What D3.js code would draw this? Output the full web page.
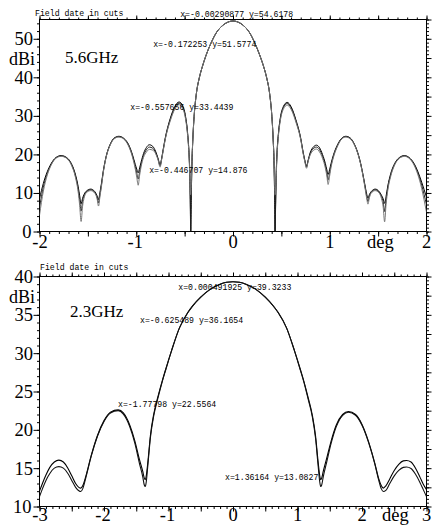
<!DOCTYPE html>
<html><head><meta charset="utf-8">
<script src="https://cdn.jsdelivr.net/npm/d3@7"></script>
<style>html,body{margin:0;padding:0;background:#fff;}svg{display:block;}</style>
</head><body>
<svg id="c" width="441" height="527"></svg>
<script>
// ---------- 5.6 GHz cut (top panel) ----------
const deg56 = [
 -2,-1.96,-1.92,-1.88,-1.83,-1.776,-1.72,-1.67,-1.63,-1.60,
 -1.585,-1.57,-1.555,-1.54,-1.51,-1.47,-1.43,-1.405,-1.39,-1.375,
 -1.36,-1.34,-1.31,-1.27,-1.23,-1.18,-1.13,-1.08,-1.04,-1.01,
 -0.995,-0.98,-0.965,-0.95,-0.925,-0.895,-0.865,-0.83,-0.80,-0.775,
 -0.753,-0.74,-0.725,-0.70,-0.65,-0.60,-0.557,-0.52,-0.49,-0.47,
 -0.455,-0.4467,-0.441,-0.437,-0.432,-0.425,-0.415,-0.40,-0.381,-0.347,
 -0.32,-0.28,-0.227,-0.172,-0.10,-0.05,0,
 0.05,0.10,0.172,0.227,0.28,0.32,0.347,0.381,0.40,0.415,
 0.425,0.431,0.435,0.44,0.4467,0.455,0.47,0.49,0.52,0.56,
 0.60,0.65,0.70,0.725,0.745,0.76,0.775,0.80,0.83,0.863,
 0.895,0.925,0.955,0.97,0.983,0.998,1.013,1.04,1.08,1.12,
 1.165,1.21,1.25,1.29,1.32,1.35,1.37,1.383,1.395,1.41,
 1.43,1.47,1.51,1.535,1.552,1.567,1.582,1.60,1.63,1.67,
 1.72,1.773,1.82,1.87,1.91,1.95,1.975,2.0];
const cut56a = [
 8.5,12.5,15.5,17.6,19.2,19.7,19.2,17.6,14.9,11.6,
 9.3,7.2,8.6,9.6,10.6,11.0,10.4,9.3,8.3,10.2,
 12.4,15.8,19.6,22.6,24.2,24.7,24.2,22.6,20.0,17.4,
 16.2,15.2,16.5,18.0,20.2,21.8,22.5,22.1,20.8,19.0,
 17.3,18.6,20.8,24.3,29.2,32.5,33.6,32.6,29.8,25.8,
 20.5,15.3,8.0,0,8.0,17.0,24.0,30.5,35.3,40.0,
 42.5,45.6,48.9,51.58,53.6,54.35,54.62,
 54.35,53.6,51.55,48.8,45.5,42.5,40.0,35.3,30.5,24.0,
 17.0,8.0,0,7.0,15.0,20.4,25.6,29.6,32.4,33.5,
 32.4,29.0,24.2,20.6,18.2,16.9,18.3,20.6,21.9,22.4,
 21.7,20.0,17.6,16.0,14.8,16.0,17.6,20.0,22.5,24.1,
 24.7,24.3,22.9,20.4,17.6,13.9,11.2,9.6,8.7,9.6,
 10.4,11.0,10.4,9.4,8.5,7.3,9.1,11.8,15.0,17.6,
 19.2,19.7,19.2,17.7,15.6,12.8,10.9,8.9];
const cut56b = [
 6.2,11.5,15.0,17.4,19.1,19.6,19.1,17.4,14.6,11.0,
 8.3,5.3,7.8,9.2,10.4,10.8,10.2,8.9,7.4,9.6,
 12.0,15.6,19.5,22.5,24.1,24.6,24.1,22.4,19.7,16.8,
 15.2,13.6,15.5,17.4,19.7,21.2,21.9,21.6,20.5,18.8,
 17.0,18.5,20.6,24.1,28.9,32.2,33.3,32.3,29.5,25.5,
 20.2,14.9,6.0,0,8.0,17.0,24.0,30.5,35.3,40.0,
 42.5,45.6,48.9,51.58,53.6,54.35,54.62,
 54.35,53.6,51.55,48.8,45.5,42.5,40.0,35.3,30.5,24.0,
 17.0,8.0,0,6.0,14.6,20.1,25.3,29.3,32.1,33.2,
 32.1,28.7,24.0,20.4,18.0,16.7,18.2,20.3,21.5,21.9,
 21.2,19.5,17.0,15.2,13.4,15.1,17.1,19.7,22.3,24.0,
 24.6,24.2,22.8,20.3,17.5,13.7,10.8,9.0,7.8,9.2,
 10.2,10.8,10.2,9.0,7.7,5.2,8.2,11.3,14.7,17.4,
 19.1,19.6,19.1,17.5,15.2,12.0,9.6,7.0];
const cut56c = [
 4.2,10.5,14.6,17.2,19.0,19.5,19.0,17.2,14.2,10.2,
 6.8,2.6,6.5,8.6,10.2,10.6,10.0,8.5,6.6,9.1,
 11.6,15.4,19.4,22.4,24.0,24.5,24.0,22.2,19.4,16.2,
 14.1,12.0,14.6,16.8,19.2,20.6,21.3,21.1,20.2,18.6,
 16.7,18.3,20.4,23.9,28.6,31.8,32.9,31.9,29.1,25.1,
 19.8,14.5,11.0,9.5,12.0,18.0,24.0,30.5,35.3,40.0,
 42.5,45.6,48.9,51.58,53.6,54.35,54.62,
 54.35,53.6,51.55,48.8,45.5,42.5,40.0,35.3,30.5,24.0,
 18.0,12.0,9.5,11.0,14.2,19.7,24.9,28.9,31.7,32.8,
 31.7,28.4,23.8,20.2,17.8,16.4,18.0,20.0,21.0,21.4,
 20.6,19.0,16.4,14.4,12.2,14.3,16.6,19.4,22.1,23.9,
 24.5,24.1,22.7,20.2,17.4,13.5,10.4,8.4,7.1,8.8,
 10.0,10.6,10.0,8.5,6.4,2.5,7.0,10.7,14.3,17.2,
 19.0,19.5,19.0,17.3,14.8,11.2,8.2,5.0];
const xTicks56 = [-2,-1,0,1,2];
const yTicks56 = [0,10,20,30,40,50];
const notes56 = ["x=-0.00290877 y=54.6178","x=-0.172253 y=51.5774","x=-0.557656 y=33.4439","x=-0.446707 y=14.876"];
const noteX56 = [-0.546,-0.825,-1.062,-0.866];
const noteY56 = [55.75,47.8,31.4,15.1];

// ---------- 2.3 GHz cut (bottom panel) ----------
const deg23 = [
 -3,-2.95,-2.9,-2.84,-2.77,-2.70,-2.63,-2.56,-2.5,-2.44,
 -2.39,-2.36,-2.33,-2.28,-2.2,-2.1,-2.0,-1.9,-1.78,-1.7,
 -1.6,-1.52,-1.45,-1.40,-1.375,-1.36,-1.345,-1.32,-1.28,-1.23,
 -1.168,-1.10,-1.04,-0.95,-0.83,-0.70,-0.625,-0.50,-0.35,-0.20,-0.10,0,
 0.1,0.2,0.35,0.5,0.625,0.70,0.83,0.95,1.04,1.10,
 1.168,1.23,1.28,1.32,1.345,1.36,1.375,1.40,1.45,1.52,
 1.6,1.7,1.79,1.9,2.0,2.1,2.2,2.26,2.30,2.33,
 2.37,2.43,2.5,2.57,2.64,2.69,2.76,2.83,2.9,2.95,3.0];
const cut23a = [
 12.0,13.1,14.1,15.1,15.8,16.05,15.8,15.0,14.0,13.0,
 12.5,12.4,12.7,14.0,16.6,19.3,21.2,22.3,22.6,22.2,
 20.6,18.5,16.1,14.6,13.7,13.5,14.0,15.8,19.3,22.0,
 24.2,26.3,28.0,30.4,33.3,35.3,36.17,37.3,38.35,39.0,39.24,39.32,
 39.24,39.0,38.35,37.3,36.15,35.3,33.3,30.4,28.0,26.3,
 24.1,21.9,19.2,15.8,14.0,13.5,13.7,14.6,16.2,18.5,
 20.6,22.0,22.4,22.0,20.7,18.5,15.6,13.6,12.7,12.4,
 12.7,13.6,14.7,15.5,15.95,16.0,15.8,15.0,13.8,12.9,12.2];
const cut23b = [
 11.3,12.4,13.4,14.3,15.0,15.2,15.0,14.3,13.4,12.5,
 12.05,11.95,12.3,13.8,16.5,19.2,21.1,22.2,22.5,22.05,
 20.4,18.2,15.6,13.9,12.8,12.6,13.2,15.4,19.0,21.8,
 24.0,26.2,27.9,30.4,33.3,35.3,36.17,37.3,38.35,39.0,39.24,39.32,
 39.24,39.0,38.35,37.3,36.15,35.3,33.3,30.4,27.9,26.2,
 23.9,21.7,18.9,15.3,13.2,12.6,12.8,13.9,15.7,18.2,
 20.4,21.9,22.3,21.9,20.6,18.4,15.5,13.4,12.3,11.95,
 12.1,13.0,14.0,14.7,15.1,15.15,14.95,14.2,13.1,12.2,11.3];
const xTicks23 = [-3,-2,-1,0,1,2,3];
const yTicks23 = [10,15,20,25,30,35,40];
const notes23 = ["x=0.000491925 y=39.3233","x=-0.625489 y=36.1654","x=-1.77798 y=22.5564","x=1.36164 y=13.0827"];
const noteX23 = [-0.848,-1.442,-1.783,-0.124];
const noteY23 = [38.25,34.0,22.95,13.45];

const svg = d3.select('#c');
const serif = '"Liberation Serif","Times New Roman",serif';
const mono = '"Liberation Mono","DejaVu Sans Mono",monospace';

function panel(o){
  const x = d3.scaleLinear().domain(o.xd).range([39.5,426.5]);
  const y = d3.scaleLinear().domain(o.yd).range(o.yr);
  const g = svg.append('g');
  const id = 'clip'+o.name;
  svg.append('clipPath').attr('id',id).append('rect')
    .attr('x',39.5).attr('y',o.yr[1]).attr('width',387).attr('height',o.yr[0]-o.yr[1]);

  function ticks(axisFn, scale, vals, size, tr){
    const a = axisFn(scale).tickValues(vals).tickSize(size).tickFormat('');
    const s = g.append('g').attr('transform',tr).call(a);
    s.select('.domain').remove();
    s.selectAll('line').attr('stroke','#000').attr('stroke-width',1);
  }
  const [x0,x1]=o.xd, [y0,y1]=o.yd;
  const xMinor = d3.range(Math.round((x1-x0)/0.1)+1).map(i=>x0+i*0.1);
  const xMajor = d3.range(Math.round((x1-x0)/0.5)+1).map(i=>x0+i*0.5);
  ticks(d3.axisBottom, x, xMinor, 2.5, `translate(0,${o.yr[0]})`);
  ticks(d3.axisBottom, x, xMajor, 5, `translate(0,${o.yr[0]})`);
  ticks(d3.axisTop, x, xMinor, 2, `translate(0,${o.yr[1]})`);
  ticks(d3.axisTop, x, xMajor, 4, `translate(0,${o.yr[1]})`);
  const ylMinor = d3.range(Math.floor((y1-y0)/o.lMinor)+1).map(i=>y0+i*o.lMinor);
  ticks(d3.axisLeft, y, ylMinor, 2.5, 'translate(39.5,0)');
  ticks(d3.axisLeft, y, o.yTicks, 6, 'translate(39.5,0)');
  const yrMinor = d3.range(Math.floor((y1-y0)/o.rMinor)+1).map(i=>y0+i*o.rMinor);
  const yrMajor = d3.range(Math.floor((y1-y0)/o.rMajor)+1).map(i=>y0+i*o.rMajor);
  ticks(d3.axisRight, y, yrMinor, 2.5, 'translate(426.5,0)');
  ticks(d3.axisRight, y, yrMajor, 5, 'translate(426.5,0)');

  // frame
  g.append('rect').attr('x',39.5).attr('y',o.yr[1]).attr('width',387).attr('height',o.yr[0]-o.yr[1])
    .attr('fill','none').attr('stroke','#000').attr('stroke-width',1);

  // curves
  const line = d3.line().x(d=>x(d[0])).y(d=>y(d[1])).curve(d3.curveMonotoneX);
  o.series.forEach((s,i)=>{
    g.append('path').datum(o.deg.map((d,j)=>[d,s[j]]))
      .attr('d',line).attr('fill','none').attr('stroke',o.colors[i])
      .attr('stroke-width',o.widths[i]).attr('clip-path',`url(#${id})`);
  });

  // tick labels
  g.selectAll('text.xl').data(o.xTicks).join('text')
    .attr('x',d=>x(d)+(d<0?-1:0)+(d===o.xd[0]?1.5:0)).attr('y',o.xlBase).attr('text-anchor','middle')
    .attr('font-family',serif).attr('font-size',18.5).text(d=>d);
  g.selectAll('text.yl').data(o.yTicks).join('text')
    .attr('x',d=>d===o.yd[0]?31.5:33).attr('y',d=>y(d)+6.5-(d===o.yd[0]?0.5:0)).attr('text-anchor','end')
    .attr('font-family',serif).attr('font-size',18.5).text(d=>d);
  g.append('text').attr('x',35).attr('y',o.dbiBase).attr('text-anchor','end')
    .attr('font-family',serif).attr('font-size',18).text('dBi');
  g.append('text').attr('x',o.degX).attr('y',o.xlBase)
    .attr('font-family',serif).attr('font-size',18.5).text('deg');
  g.append('text').attr('x',o.freqX).attr('y',o.freqBase)
    .attr('font-family',serif).attr('font-size',17).text(o.freq);
  g.append('text').attr('x',o.titleX).attr('y',o.titleBase)
    .attr('font-family',mono).attr('font-size',8.2).text('Field date in cuts');
  g.selectAll('text.note').data(o.notes).join('text')
    .attr('x',(d,i)=>x(o.noteX[i])).attr('y',(d,i)=>y(o.noteY[i]))
    .attr('font-family',mono).attr('font-size',8.2).attr('fill','#000').text(d=>d);
}

panel({name:'56', xd:[-2,2], yd:[0,55], yr:[231.5,19.5], deg:deg56,
  series:[cut56a,cut56b,cut56c], colors:['#000','#222','#777'], widths:[1,1,1],
  xTicks:xTicks56, yTicks:yTicks56, lMinor:2, rMinor:1, rMajor:5,
  xlBase:248, dbiBase:64.5, degX:367, freq:'5.6GHz', freqX:65, freqBase:62.5,
  titleX:35, titleBase:15.5, notes:notes56, noteX:noteX56, noteY:noteY56});
panel({name:'23', xd:[-3,3], yd:[10,40], yr:[506.5,276.5], deg:deg23,
  series:[cut23a,cut23b], colors:['#000','#111'], widths:[1.1,1.1],
  xTicks:xTicks23, yTicks:yTicks23, lMinor:1, rMinor:0.5, rMajor:2.5,
  xlBase:521, dbiBase:302.5, degX:382, freq:'2.3GHz', freqX:70, freqBase:317,
  titleX:40, titleBase:270, notes:notes23, noteX:noteX23, noteY:noteY23});
</script>
</body></html>
